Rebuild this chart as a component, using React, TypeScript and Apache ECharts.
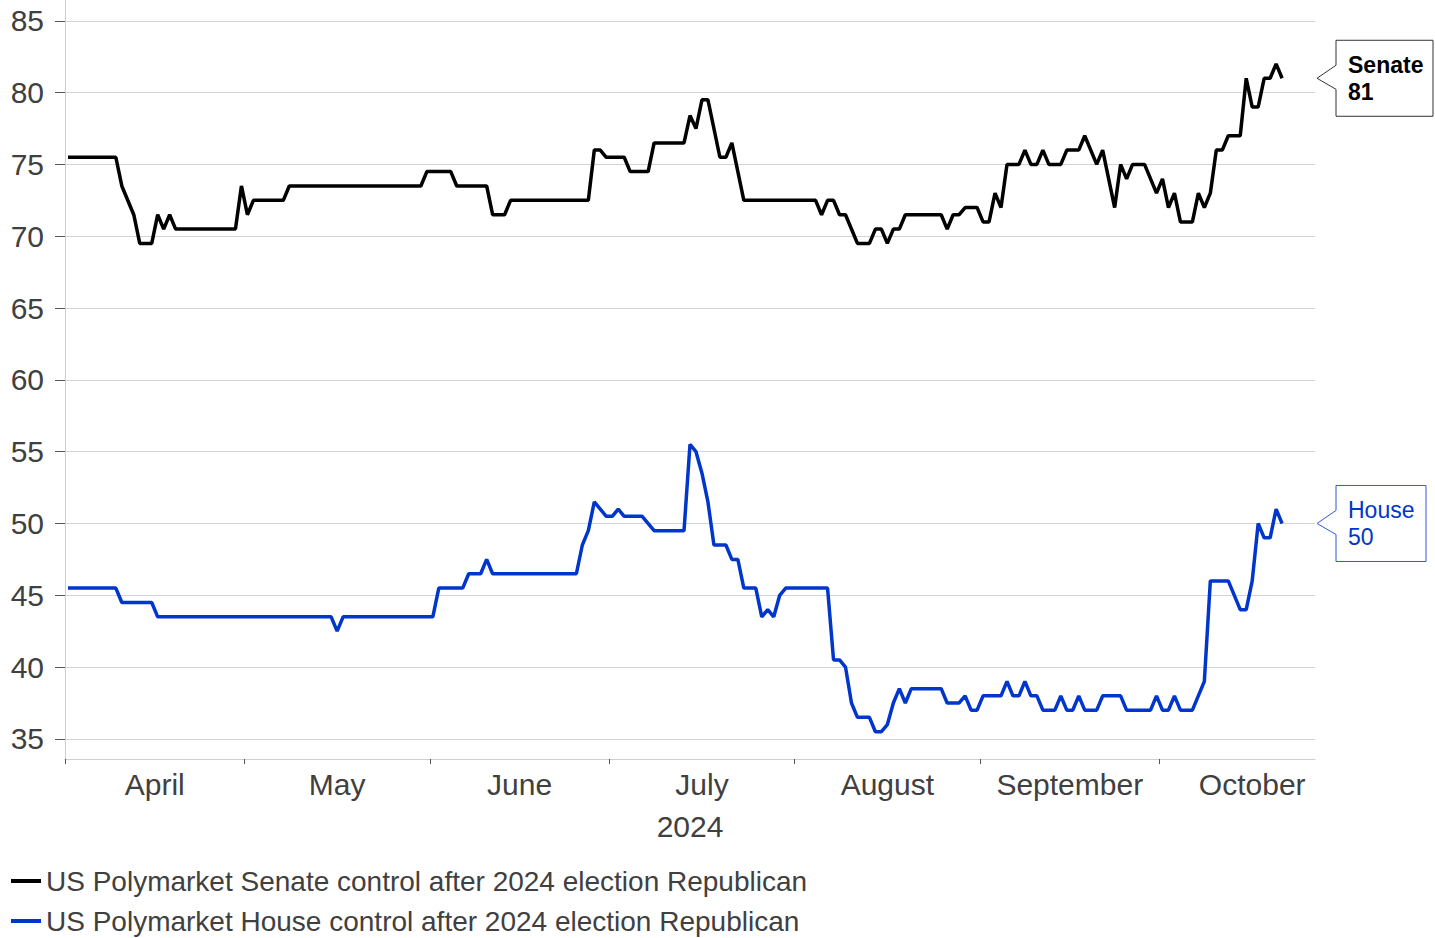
import { useEffect, useRef } from 'react';
import * as echarts from 'echarts';

// Daily Polymarket odds (%) for a Republican majority, listed at the dates where the line turns.
const senateDates = [
  '2024-04-01', '2024-04-09', '2024-04-10', '2024-04-12', '2024-04-13', '2024-04-15', '2024-04-16', '2024-04-17',
  '2024-04-18', '2024-04-19', '2024-04-29', '2024-04-30', '2024-05-01', '2024-05-02', '2024-05-07', '2024-05-08',
  '2024-05-30', '2024-05-31', '2024-06-04', '2024-06-05', '2024-06-10', '2024-06-11', '2024-06-13', '2024-06-14',
  '2024-06-27', '2024-06-28', '2024-06-29', '2024-06-30', '2024-07-03', '2024-07-04', '2024-07-07', '2024-07-08',
  '2024-07-13', '2024-07-14', '2024-07-15', '2024-07-16', '2024-07-17', '2024-07-19', '2024-07-20', '2024-07-21',
  '2024-07-23', '2024-08-04', '2024-08-05', '2024-08-06', '2024-08-07', '2024-08-08', '2024-08-09', '2024-08-11',
  '2024-08-13', '2024-08-14', '2024-08-15', '2024-08-16', '2024-08-17', '2024-08-18', '2024-08-19', '2024-08-25',
  '2024-08-26', '2024-08-27', '2024-08-28', '2024-08-29', '2024-08-31', '2024-09-01', '2024-09-02', '2024-09-03',
  '2024-09-04', '2024-09-05', '2024-09-07', '2024-09-08', '2024-09-09', '2024-09-10', '2024-09-11', '2024-09-12',
  '2024-09-14', '2024-09-15', '2024-09-17', '2024-09-18', '2024-09-20', '2024-09-21', '2024-09-23', '2024-09-24',
  '2024-09-25', '2024-09-26', '2024-09-28', '2024-09-30', '2024-10-01', '2024-10-02', '2024-10-03', '2024-10-04',
  '2024-10-06', '2024-10-07', '2024-10-08', '2024-10-09', '2024-10-10', '2024-10-11', '2024-10-12', '2024-10-14',
  '2024-10-15', '2024-10-16', '2024-10-17', '2024-10-18', '2024-10-19', '2024-10-20', '2024-10-21',
];
const senateValues = [
  75.5, 75.5, 73.5, 71.5, 69.5, 69.5, 71.5, 70.5,
  71.5, 70.5, 70.5, 73.5, 71.5, 72.5, 72.5, 73.5,
  73.5, 74.5, 74.5, 73.5, 73.5, 71.5, 71.5, 72.5,
  72.5, 76.0, 76.0, 75.5, 75.5, 74.5, 74.5, 76.5,
  76.5, 78.4, 77.5, 79.5, 79.5, 75.5, 75.5, 76.5,
  72.5, 72.5, 71.5, 72.5, 72.5, 71.5, 71.5, 69.5,
  69.5, 70.5, 70.5, 69.5, 70.5, 70.5, 71.5, 71.5,
  70.5, 71.5, 71.5, 72.0, 72.0, 71.0, 71.0, 73.0,
  72.0, 75.0, 75.0, 76.0, 75.0, 75.0, 76.0, 75.0,
  75.0, 76.0, 76.0, 77.0, 75.0, 76.0, 72.0, 75.0,
  74.0, 75.0, 75.0, 73.0, 74.0, 72.0, 73.0, 71.0,
  71.0, 73.0, 72.0, 73.0, 76.0, 76.0, 77.0, 77.0,
  81.0, 79.0, 79.0, 81.0, 81.0, 82.0, 81.0,
];

const houseDates = [
  '2024-04-01', '2024-04-09', '2024-04-10', '2024-04-15', '2024-04-16', '2024-05-15', '2024-05-16', '2024-05-17',
  '2024-06-01', '2024-06-02', '2024-06-06', '2024-06-07', '2024-06-09', '2024-06-10', '2024-06-11', '2024-06-25',
  '2024-06-26', '2024-06-27', '2024-06-28', '2024-06-30', '2024-07-01', '2024-07-02', '2024-07-03', '2024-07-06',
  '2024-07-08', '2024-07-13', '2024-07-14', '2024-07-15', '2024-07-16', '2024-07-17', '2024-07-18', '2024-07-20',
  '2024-07-21', '2024-07-22', '2024-07-23', '2024-07-25', '2024-07-26', '2024-07-27', '2024-07-28', '2024-07-29',
  '2024-07-30', '2024-08-06', '2024-08-07', '2024-08-08', '2024-08-09', '2024-08-10', '2024-08-11', '2024-08-13',
  '2024-08-14', '2024-08-15', '2024-08-16', '2024-08-17', '2024-08-18', '2024-08-19', '2024-08-20', '2024-08-25',
  '2024-08-26', '2024-08-28', '2024-08-29', '2024-08-30', '2024-08-31', '2024-09-01', '2024-09-04', '2024-09-05',
  '2024-09-06', '2024-09-07', '2024-09-08', '2024-09-09', '2024-09-10', '2024-09-11', '2024-09-13', '2024-09-14',
  '2024-09-15', '2024-09-16', '2024-09-17', '2024-09-18', '2024-09-20', '2024-09-21', '2024-09-24', '2024-09-25',
  '2024-09-29', '2024-09-30', '2024-10-01', '2024-10-02', '2024-10-03', '2024-10-04', '2024-10-06', '2024-10-08',
  '2024-10-09', '2024-10-12', '2024-10-14', '2024-10-15', '2024-10-16', '2024-10-17', '2024-10-18', '2024-10-19',
  '2024-10-20', '2024-10-21',
];
const houseValues = [
  45.5, 45.5, 44.5, 44.5, 43.5, 43.5, 42.5, 43.5,
  43.5, 45.5, 45.5, 46.5, 46.5, 47.5, 46.5, 46.5,
  48.5, 49.5, 51.5, 50.5, 50.5, 51.0, 50.5, 50.5,
  49.5, 49.5, 55.5, 55.0, 53.5, 51.5, 48.5, 48.5,
  47.5, 47.5, 45.5, 45.5, 43.5, 44.0, 43.5, 45.0,
  45.5, 45.5, 40.5, 40.5, 40.0, 37.5, 36.5, 36.5,
  35.5, 35.5, 36.0, 37.5, 38.5, 37.5, 38.5, 38.5,
  37.5, 37.5, 38.0, 37.0, 37.0, 38.0, 38.0, 39.0,
  38.0, 38.0, 39.0, 38.0, 38.0, 37.0, 37.0, 38.0,
  37.0, 37.0, 38.0, 37.0, 37.0, 38.0, 38.0, 37.0,
  37.0, 38.0, 37.0, 37.0, 38.0, 37.0, 37.0, 39.0,
  46.0, 46.0, 44.0, 44.0, 46.0, 50.0, 49.0, 49.0,
  51.0, 50.0,
];

const seriesNames = [
  'US Polymarket Senate control after 2024 election Republican',
  'US Polymarket House control after 2024 election Republican',
];
const calloutNames = ['Senate', 'House'];
const monthNames = ['April', 'May', 'June', 'July', 'August', 'September', 'October'];
const monthStarts = [
  '2024-04-01', '2024-05-01', '2024-06-01', '2024-07-01', '2024-08-01', '2024-09-01', '2024-10-01', '2024-11-01',
];
const yearLabel = '2024';
const yTickValues = [35, 40, 45, 50, 55, 60, 65, 70, 75, 80, 85];
const xRange = ['2024-04-01', '2024-10-27'];
const yRange = [33.6, 86.45];

const FONT = '"Liberation Sans", Arial, Helvetica, sans-serif';
const TEXT = '#404040';
const SENATE_COLOR = '#000000';
const HOUSE_COLOR = '#0036cc';

const utc = (d: string, hour = 0) => {
  const [y, m, dd] = d.split('-').map(Number);
  return Date.UTC(y, m - 1, dd, hour);
};

// Daily closes are placed at midday of their date.
const toSeries = (dates: string[], values: number[]) => dates.map((d, i) => [utc(d, 12), values[i]]);

export default function App() {
  const ref = useRef<HTMLDivElement>(null);

  useEffect(() => {
    if (!ref.current) return;
    const chart = echarts.init(ref.current, undefined, { renderer: 'svg' });

    const tickStamps = monthStarts.slice(0, monthNames.length).map((d) => utc(d));
    const labelStamps = monthNames.map((_, i) => (utc(monthStarts[i]) + utc(monthStarts[i + 1])) / 2);

    const senate = toSeries(senateDates, senateValues);
    const house = toSeries(houseDates, houseValues);

    chart.setOption({
      animation: false,
      textStyle: { fontFamily: FONT },
      grid: { left: 65, right: 120, top: 0, bottom: 179, containLabel: false },
      xAxis: {
        // Time is kept as UTC milliseconds on a linear axis, with month ticks set explicitly.
        type: 'value',
        min: utc(xRange[0]),
        max: utc(xRange[1]),
        axisLine: { show: true, lineStyle: { color: '#cfcfcf', width: 1 } },
        axisTick: { show: true, customValues: tickStamps, length: 5, lineStyle: { color: '#555555', width: 1 } },
        axisLabel: {
          customValues: labelStamps,
          formatter: (v: number) => {
            const i = labelStamps.findIndex((s) => Math.abs(s - v) < 60000);
            return i >= 0 ? monthNames[i] : '';
          },
          fontSize: 30,
          color: TEXT,
          margin: 10,
          fontFamily: FONT,
        },
        splitLine: { show: false },
        minorTick: { show: false },
      },
      yAxis: {
        type: 'value',
        min: yRange[0],
        max: yRange[1],
        axisLine: { show: true, lineStyle: { color: '#cfcfcf', width: 1 } },
        axisTick: { show: true, customValues: yTickValues, length: 10, lineStyle: { color: '#555555', width: 1 } },
        axisLabel: { customValues: yTickValues, fontSize: 30, color: TEXT, margin: 21, fontFamily: FONT },
        splitLine: { show: true, lineStyle: { color: '#d4d4d4', width: 1 } },
      },
      legend: {
        orient: 'vertical',
        left: 11,
        top: 867,
        padding: 0,
        itemWidth: 30,
        itemHeight: 4,
        itemGap: 12,
        icon: 'rect',
        selectedMode: false,
        data: seriesNames,
        textStyle: { fontSize: 28, color: TEXT, fontFamily: FONT },
      },
      series: [
        {
          name: seriesNames[0],
          type: 'line',
          data: senate,
          symbol: 'none',
          showSymbol: false,
          lineStyle: { color: SENATE_COLOR, width: 3.5 },
          itemStyle: { color: SENATE_COLOR },
          z: 3,
        },
        {
          name: seriesNames[1],
          type: 'line',
          data: house,
          symbol: 'none',
          showSymbol: false,
          lineStyle: { color: HOUSE_COLOR, width: 3.5 },
          itemStyle: { color: HOUSE_COLOR },
          z: 3,
        },
      ],
    });

    // Callouts at the right edge, pointing at each series' latest reading.
    const gridRight = chart.convertToPixel({ xAxisIndex: 0 }, utc(xRange[1])) as number;
    const tipX = gridRight + 2;
    const boxLeft = tipX + 19;
    const callout = (
      name: string,
      data: number[][],
      color: string,
      border: string,
      weight: string,
      width: number,
    ) => {
      const last = data[data.length - 1];
      const tipY = chart.convertToPixel({ yAxisIndex: 0 }, last[1]) as number;
      const top = tipY - 38;
      const bottom = tipY + 38;
      const right = boxLeft + width;
      return [
        {
          type: 'polygon',
          shape: {
            points: [
              [boxLeft, top],
              [right, top],
              [right, bottom],
              [boxLeft, bottom],
              [boxLeft, tipY + 11],
              [tipX, tipY],
              [boxLeft, tipY - 13],
            ],
          },
          style: { fill: '#ffffff', stroke: border, lineWidth: 1 },
          z: 10,
        },
        {
          type: 'text',
          x: boxLeft + 12,
          y: tipY,
          style: {
            text: `${name}\n${last[1]}`,
            fontSize: 23,
            lineHeight: 27,
            fontWeight: weight,
            fill: color,
            fontFamily: FONT,
            align: 'left',
            verticalAlign: 'middle',
          },
          z: 11,
        },
      ];
    };

    const midX = ((chart.convertToPixel({ xAxisIndex: 0 }, utc(xRange[0])) as number) + gridRight) / 2;

    chart.setOption({
      graphic: [
        ...callout(calloutNames[0], senate, SENATE_COLOR, '#333333', 'bold', 97),
        ...callout(calloutNames[1], house, HOUSE_COLOR, '#2f5bd6', 'normal', 90),
        {
          type: 'text',
          x: midX,
          y: 826,
          style: {
            text: yearLabel,
            fontSize: 30,
            fill: TEXT,
            fontFamily: FONT,
            align: 'center',
            verticalAlign: 'middle',
          },
        },
      ],
    });

    return () => chart.dispose();
  }, []);

  return (
    <div
      ref={ref}
      style={{ position: 'fixed', left: 0, top: 0, width: 1435, height: 938, background: '#ffffff' }}
    />
  );
}
